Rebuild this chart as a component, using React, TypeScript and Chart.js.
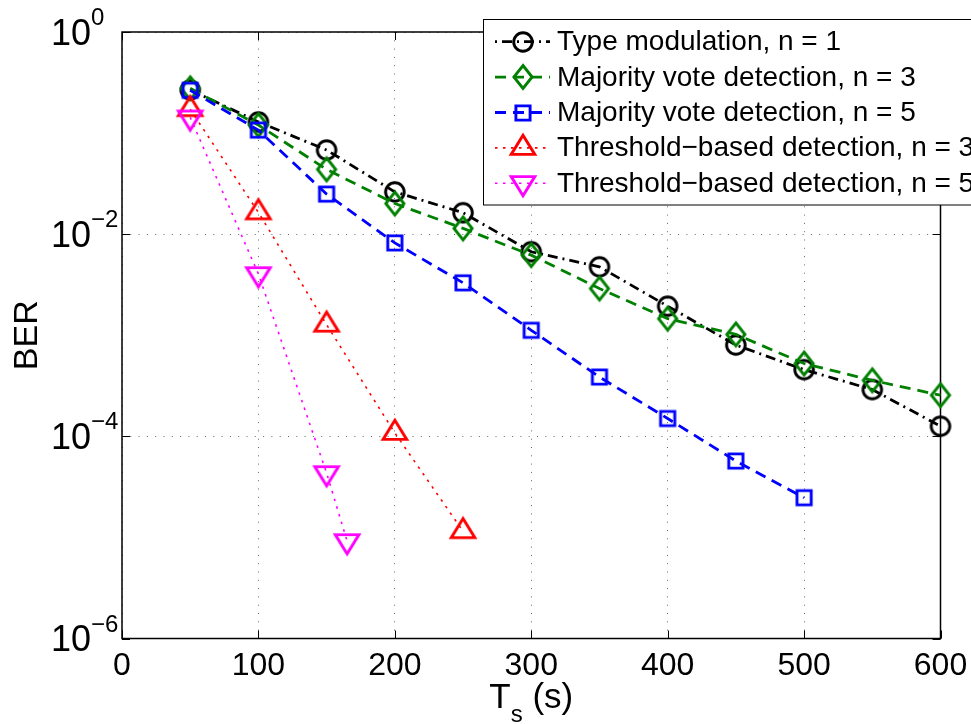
import React, { useEffect, useRef } from 'react';
import { Chart, registerables } from 'chart.js';

Chart.register(...registerables);

// ---------------- data ----------------
const xFull = [50, 100, 150, 200, 250, 300, 350, 400, 450, 500, 550, 600];
const xMajority5 = [50, 100, 150, 200, 250, 300, 350, 400, 450, 500];
const xThreshold3 = [50, 100, 150, 200, 250];
const xThreshold5 = [50, 100, 150, 165];

const berType1 = [0.267, 0.129, 0.068, 0.0262, 0.0163, 0.0067, 0.00475, 0.00194, 0.0008, 0.000457, 0.00029, 0.000126];
const berMajority3 = [0.277, 0.12, 0.0437, 0.0201, 0.0114, 0.0062, 0.0029, 0.00146, 0.00102, 0.000525, 0.000358, 0.000255];
const berMajority5 = [0.265, 0.107, 0.0249, 0.0082, 0.0033, 0.00112, 0.000386, 0.00015, 0.000057, 0.0000247];
const berThreshold3 = [0.172, 0.0164, 0.00127, 0.000108, 0.0000115];
const berThreshold5 = [0.143, 0.00403, 0.0000433, 0.0000092];

const seriesLabels = [
  'Type modulation, n = 1',
  'Majority vote detection, n = 3',
  'Majority vote detection, n = 5',
  'Threshold\u2212based detection, n = 3',
  'Threshold\u2212based detection, n = 5',
];

const xTickValues = [0, 100, 200, 300, 400, 500, 600];
const yTickExponents = [0, -2, -4, -6];

const FONT = '"Liberation Sans", Arial, Helvetica, sans-serif';

// ---------------- markers ----------------
const MS = 34;
function makeMarker(kind: string, color: string): HTMLCanvasElement {
  const c = document.createElement('canvas');
  c.width = MS;
  c.height = MS;
  const g = c.getContext('2d') as CanvasRenderingContext2D;
  const m = MS / 2;
  g.strokeStyle = color;
  g.lineWidth = 2.9;
  g.lineJoin = 'miter';
  g.beginPath();
  if (kind === 'circle') {
    g.arc(m, m, 9.3, 0, Math.PI * 2);
  } else if (kind === 'square') {
    g.rect(m - 7.1, m - 7.1, 14.2, 14.2);
  } else if (kind === 'diamond') {
    g.moveTo(m, m - 11.5);
    g.lineTo(m + 9.1, m);
    g.lineTo(m, m + 11.5);
    g.lineTo(m - 9.1, m);
    g.closePath();
  } else if (kind === 'triUp') {
    g.moveTo(m, m - 12.8);
    g.lineTo(m + 11.8, m + 6.4);
    g.lineTo(m - 11.8, m + 6.4);
    g.closePath();
  } else if (kind === 'triDown') {
    g.moveTo(m, m + 12.8);
    g.lineTo(m + 11.8, m - 6.4);
    g.lineTo(m - 11.8, m - 6.4);
    g.closePath();
  }
  g.stroke();
  return c;
}

function pairs(xs: number[], ys: number[]) {
  return xs.map((x, i) => ({ x, y: ys[i] }));
}

const decorPlugin = {
  id: 'decor',
  beforeDatasetsDraw(chart: any) {
    const { ctx, chartArea: a } = chart;
    const xs = chart.scales.x;
    const ys = chart.scales.y;
    ctx.save();
    ctx.setLineDash([]);
    ctx.strokeStyle = '#000';
    ctx.lineWidth = 1.5;
    ctx.strokeRect(a.left, a.top, a.right - a.left, a.bottom - a.top);
    ctx.lineWidth = 1;
    ctx.beginPath();
    for (const v of xTickValues) {
      const px = Math.round(xs.getPixelForValue(v)) + 0.5;
      ctx.moveTo(px, a.bottom);
      ctx.lineTo(px, a.bottom - 8);
      ctx.moveTo(px, a.top);
      ctx.lineTo(px, a.top + 8);
    }
    for (const e of yTickExponents) {
      const py = Math.round(ys.getPixelForValue(Math.pow(10, e))) + 0.5;
      ctx.moveTo(a.left, py);
      ctx.lineTo(a.left + 8, py);
      ctx.moveTo(a.right, py);
      ctx.lineTo(a.right - 8, py);
    }
    ctx.stroke();
    ctx.restore();
  },
  afterDraw(chart: any) {
    const { ctx, chartArea: a } = chart;
    const xs = chart.scales.x;
    const ys = chart.scales.y;
    ctx.save();
    ctx.fillStyle = '#000';
    ctx.textBaseline = 'alphabetic';

    // x tick labels
    ctx.font = `32px ${FONT}`;
    ctx.textAlign = 'center';
    for (const v of xTickValues) {
      ctx.fillText(String(v), xs.getPixelForValue(v), 675);
    }

    // y tick labels 10^e
    ctx.textAlign = 'left';
    for (const e of yTickExponents) {
      const py = ys.getPixelForValue(Math.pow(10, e));
      ctx.font = `36px ${FONT}`;
      ctx.fillText('10', 51, py + 12.5);
      ctx.font = `24px ${FONT}`;
      ctx.fillText(e === 0 ? '0' : '\u2212' + Math.abs(e), 91, py + 12.5 - 19.5);
    }

    // x axis title: T_s (s)
    const cx = (a.left + a.right) / 2;
    ctx.font = `35px ${FONT}`;
    const wT = ctx.measureText('T').width;
    const wP = ctx.measureText(' (s)').width;
    ctx.font = `24px ${FONT}`;
    const wS = ctx.measureText('s').width;
    let sx = cx - (wT + wS + wP) / 2;
    ctx.font = `35px ${FONT}`;
    ctx.fillText('T', sx, 708);
    sx += wT;
    ctx.font = `24px ${FONT}`;
    ctx.fillText('s', sx, 722);
    sx += wS;
    ctx.font = `35px ${FONT}`;
    ctx.fillText(' (s)', sx, 708);

    // y axis title
    ctx.save();
    ctx.translate(37, (a.top + a.bottom) / 2);
    ctx.rotate(-Math.PI / 2);
    ctx.textAlign = 'center';
    ctx.font = `34px ${FONT}`;
    ctx.fillText('BER', 0, 0);
    ctx.restore();

    // legend
    const lx = 483.5;
    const ly = 19.5;
    ctx.fillStyle = '#fff';
    ctx.fillRect(lx, ly, 600, 185.5);
    ctx.strokeStyle = '#000';
    ctx.lineWidth = 1;
    ctx.setLineDash([]);
    ctx.strokeRect(lx, ly, 600, 185.5);
    const dsets = chart.data.datasets;
    for (let i = 0; i < dsets.length; i++) {
      const d = dsets[i];
      const ry = 41.7 + i * 35.4;
      ctx.save();
      ctx.strokeStyle = d.borderColor;
      ctx.lineWidth = d.borderWidth;
      ctx.setLineDash(d.borderDash || []);
      ctx.lineDashOffset = d.legendDashOffset || 0;
      ctx.beginPath();
      ctx.moveTo(495, ry);
      ctx.lineTo(550, ry);
      ctx.stroke();
      ctx.restore();
      ctx.drawImage(d.pointStyle, 523 - MS / 2, Math.round(ry) - MS / 2);
      ctx.fillStyle = '#000';
      ctx.font = `28px ${FONT}`;
      ctx.textAlign = 'left';
      ctx.fillText(seriesLabels[i], 557, ry + 8.5);
    }
    ctx.restore();
  },
};

export default function App() {
  const ref = useRef<HTMLCanvasElement>(null);
  useEffect(() => {
    document.body.style.margin = '0';
    const markers = [
      makeMarker('circle', '#000000'),
      makeMarker('diamond', '#008000'),
      makeMarker('square', '#0000ff'),
      makeMarker('triUp', '#ff0000'),
      makeMarker('triDown', '#ff00ff'),
    ];
    const common = {
      fill: false,
      tension: 0,
      clip: false as any,
      pointRadius: 10,
      pointHoverRadius: 10,
      backgroundColor: 'rgba(0,0,0,0)',
    };
    const datasets: any[] = [
      { ...common, label: seriesLabels[0], data: pairs(xFull, berType1), borderColor: '#000000', borderWidth: 2.8, borderDash: [10, 5, 2, 5], legendDashOffset: 15, pointStyle: markers[0], order: 4 },
      { ...common, label: seriesLabels[1], data: pairs(xFull, berMajority3), borderColor: '#008000', borderWidth: 2.8, borderDash: [11, 7], legendDashOffset: 0, pointStyle: markers[1], order: 3 },
      { ...common, label: seriesLabels[2], data: pairs(xMajority5, berMajority5), borderColor: '#0000ff', borderWidth: 2.8, borderDash: [11, 7], legendDashOffset: 0, pointStyle: markers[2], order: 2 },
      { ...common, label: seriesLabels[3], data: pairs(xThreshold3, berThreshold3), borderColor: '#ff0000', borderWidth: 1.6, borderDash: [2.5, 5.5], legendDashOffset: 0, pointStyle: markers[3], order: 1 },
      { ...common, label: seriesLabels[4], data: pairs(xThreshold5, berThreshold5), borderColor: '#ff00ff', borderWidth: 1.6, borderDash: [2.5, 5.5], legendDashOffset: 0, pointStyle: markers[4], order: 0 },
    ];
    const gridOpts = { color: 'rgba(0,0,0,0.6)', lineWidth: 1, drawTicks: false };
    const chart = new Chart(ref.current as HTMLCanvasElement, {
      type: 'line',
      data: { datasets },
      options: {
        animation: false,
        responsive: false,
        devicePixelRatio: 1,
        layout: { padding: { top: 32, right: 30.5, left: 0, bottom: 0 } },
        plugins: { legend: { display: false }, tooltip: { enabled: false } },
        events: [],
        scales: {
          x: {
            type: 'linear',
            min: 0,
            max: 600,
            afterBuildTicks: (s: any) => { s.ticks = xTickValues.map((v) => ({ value: v })); },
            ticks: { display: false },
            grid: gridOpts,
            border: { display: false, dash: [1, 7.3] },
            afterFit: (s: any) => { s.height = 85.5; },
          },
          y: {
            type: 'logarithmic',
            min: 1e-6,
            max: 1,
            afterBuildTicks: (s: any) => { s.ticks = yTickExponents.map((e) => ({ value: Math.pow(10, e) })); },
            ticks: { display: false },
            grid: gridOpts,
            border: { display: false, dash: [1, 7.3] },
            afterFit: (s: any) => { s.width = 122; },
          },
        },
      } as any,
      plugins: [decorPlugin],
    });
    return () => chart.destroy();
  }, []);
  return (
    <div style={{ width: 971, height: 724, background: '#fff' }}>
      <canvas ref={ref} width={971} height={724} style={{ display: 'block', width: 971, height: 724 }} />
    </div>
  );
}
